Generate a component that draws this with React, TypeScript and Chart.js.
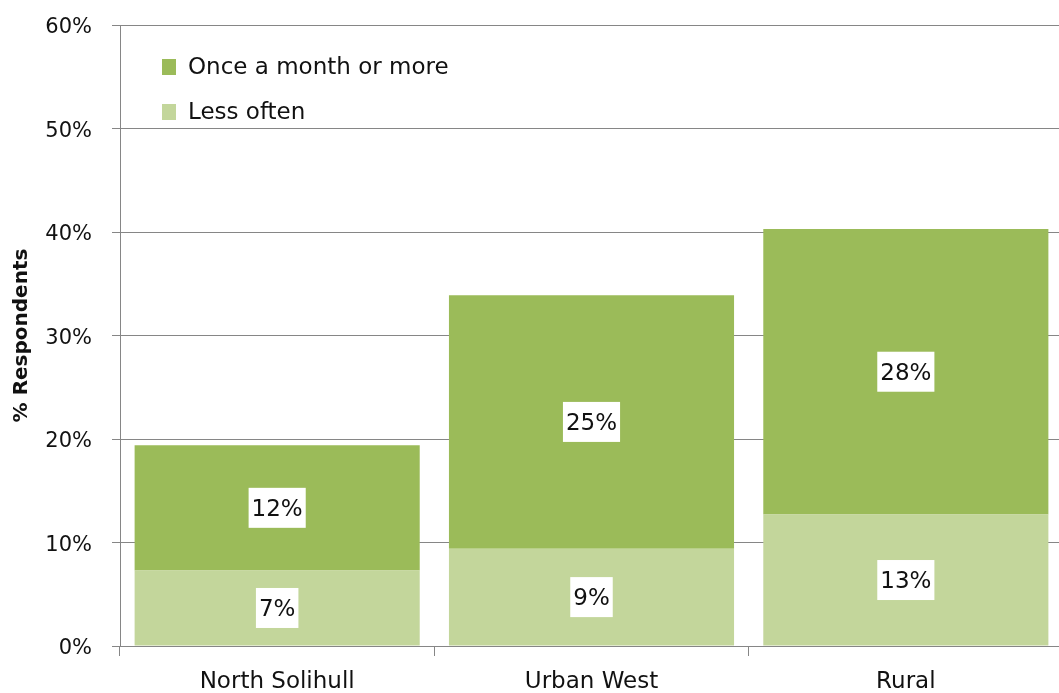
import React, { useEffect, useRef } from "react";
import { Chart, registerables } from "chart.js";

Chart.register(...registerables);

const categories = ["North Solihull", "Urban West", "Rural"];
const lessOften = [7.3, 9.4, 12.7];
const onceAMonth = [12.1, 24.5, 27.6];
const seriesNames = ["Less often", "Once a month or more"];
const yTicks = [0, 10, 20, 30, 40, 50, 60];

const DARK = "#9BBB59";
const LIGHT = "#C3D69B";
const GRID = "#868686";
const FONT = "'DejaVu Sans', sans-serif";

const labelPlugin = {
  id: "segLabels",
  afterDatasetsDraw(chart: any) {
    const ctx = chart.ctx;
    ctx.save();
    ctx.font = `23px ${FONT}`;
    ctx.textAlign = "center";
    ctx.textBaseline = "middle";
    chart.data.datasets.forEach((ds: any, di: number) => {
      const meta = chart.getDatasetMeta(di);
      meta.data.forEach((bar: any, i: number) => {
        const v = ds.data[i];
        const txt = Math.round(v) + "%";
        const cx = bar.x;
        const cy = (bar.y + bar.base) / 2;
        const w = ctx.measureText(txt).width + 6;
        const h = 40;
        ctx.fillStyle = "#ffffff";
        ctx.fillRect(cx - w / 2, cy - h / 2, w, h);
        ctx.fillStyle = "#111111";
        ctx.fillText(txt, cx, cy + 2);
      });
    });
    ctx.restore();
  },
};

const legendPlugin = {
  id: "innerLegend",
  afterDraw(chart: any) {
    const ctx = chart.ctx;
    const { left, top } = chart.chartArea;
    const items = [
      { text: seriesNames[1], color: DARK, y: top + 42 },
      { text: seriesNames[0], color: LIGHT, y: top + 87 },
    ];
    ctx.save();
    ctx.font = `23px ${FONT}`;
    ctx.textAlign = "left";
    ctx.textBaseline = "middle";
    items.forEach((it) => {
      ctx.fillStyle = it.color;
      ctx.fillRect(left + 42, it.y - 8, 14, 16);
      ctx.fillStyle = "#111111";
      ctx.fillText(it.text, left + 68, it.y + 1);
    });
    ctx.restore();
  },
};

export default function App() {
  const ref = useRef<HTMLCanvasElement>(null);
  useEffect(() => {
    if (!ref.current) return;
    const chart = new Chart(ref.current, {
      type: "bar",
      data: {
        labels: categories,
        datasets: [
          {
            label: seriesNames[0],
            data: lessOften,
            backgroundColor: LIGHT,
            barPercentage: 0.907,
            categoryPercentage: 1,
          },
          {
            label: seriesNames[1],
            data: onceAMonth,
            backgroundColor: DARK,
            barPercentage: 0.907,
            categoryPercentage: 1,
          },
        ],
      },
      options: {
        responsive: false,
        animation: false,
        layout: { padding: { top: 25, right: 1, left: 0, bottom: 0 } },
        plugins: {
          legend: { display: false },
          tooltip: { enabled: false },
        },
        scales: {
          x: {
            stacked: true,
            grid: {
              display: true,
              drawOnChartArea: false,
              drawTicks: true,
              tickLength: 10,
              color: GRID,
              offset: true,
            },
            border: { display: true, color: GRID, width: 1 },
            ticks: {
              color: "#111111",
              font: { family: FONT, size: 23 },
              padding: 12,
            },
            afterFit: (s: any) => {
              s.height = 47;
            },
          },
          y: {
            stacked: true,
            min: 0,
            max: 60,
            afterBuildTicks: (s: any) => {
              s.ticks = yTicks.map((v) => ({ value: v }));
            },
            grid: {
              color: GRID,
              tickLength: 8,
              lineWidth: 1,
            },
            border: { display: true, color: GRID, width: 1 },
            ticks: {
              color: "#111111",
              font: { family: FONT, size: 21 },
              padding: 20,
              labelOffset: 3,
              callback: (v: any) => v + "%",
            },
            title: {
              display: true,
              text: "% Respondents",
              color: "#111111",
              font: { family: FONT, size: 20, weight: "bold" },
              padding: { top: 10, bottom: 0 },
            },
            afterFit: (s: any) => {
              s.width = 120;
              s.paddingTop = 0;
              s.paddingBottom = 0;
            },
          },
        },
      },
      plugins: [labelPlugin, legendPlugin],
    });
    return () => chart.destroy();
  }, []);
  return (
    <div
      style={{
        position: "fixed",
        left: 0,
        top: 0,
        width: 1064,
        height: 693,
        background: "#ffffff",
      }}
    >
      <canvas ref={ref} width={1064} height={693} style={{ display: "block" }} />
    </div>
  );
}
